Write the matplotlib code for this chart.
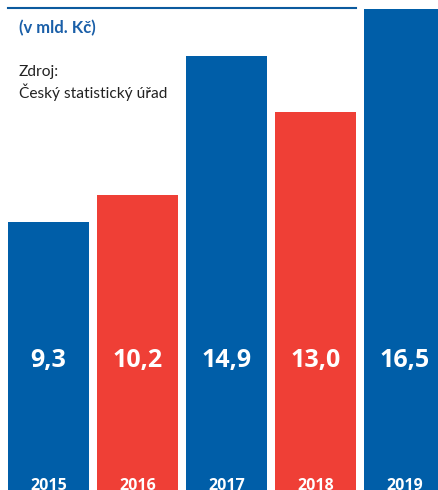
import matplotlib.pyplot as plt
from matplotlib.lines import Line2D

# data
years = ['2015', '2016', '2017', '2018', '2019']
values = [9.3, 10.2, 14.9, 13.0, 16.5]
valueLabels = ['9,3', '10,2', '14,9', '13,0', '16,5']
barColors = ['#005ea8', '#ef3f36', '#005ea8', '#ef3f36', '#005ea8']

W, H = 438, 490
fig = plt.figure(figsize=(W / 100, H / 100), dpi=100)
ax = fig.add_axes([0, 0, 1, 1])

# pixel geometry: bar pitch 89 px, width 81 px, baseline ~497 px
# (the baseline sits just below the bottom edge, so bars run off the image)
pitch = 89.0
pxPerUnit = 29.58
base = 497.0
x0 = 48.5
ax.set_xlim(-x0 / pitch, (W - x0) / pitch)
ax.set_ylim((base - H) / pxPerUnit, base / pxPerUnit)
ax.axis('off')

xs = list(range(len(years)))
ax.bar(xs, [v + 1 for v in values], bottom=-1, width=81 / pitch,
       color=barColors, linewidth=0)

for x, lab, yr in zip(xs, valueLabels, years):
    ax.text(x, (base - 361) / pxPerUnit, lab, ha='center', va='center',
            color='white', fontsize=18, fontweight='bold', family='Open Sans')
    ax.text(x, (base - 486) / pxPerUnit, yr, ha='center', va='center',
            color='white', fontsize=11.5, fontweight='bold', family='Open Sans')

# top rule
fig.add_artist(Line2D([8 / W, 356 / W], [1 - 8.5 / H, 1 - 8.5 / H],
                      color='#0b5a9e', linewidth=1.5))

fig.text(19 / W, 1 - 28 / H, '(v mld. Kč)', ha='left', va='center',
         color='#1a5fa8', fontsize=12, fontweight='bold', family='Lato')
fig.text(19 / W, 1 - 83 / H, 'Zdroj:\nČeský statistický úřad', ha='left',
         va='center', color='#222222', fontsize=11.2, family='Lato',
         linespacing=1.25)

fig.savefig('out.png', dpi=100)
